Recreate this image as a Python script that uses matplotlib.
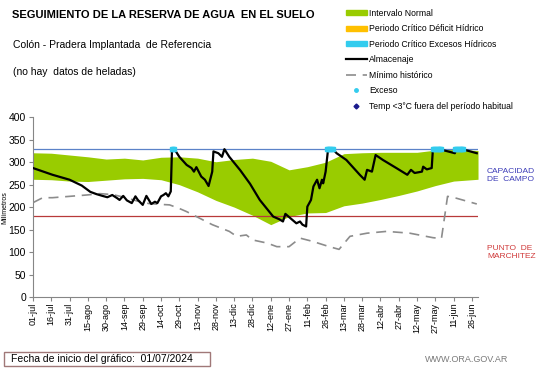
#!/usr/bin/env python3
import matplotlib
matplotlib.use("Agg")
import matplotlib.pyplot as plt
from matplotlib.patches import Patch, Rectangle
from matplotlib.lines import Line2D

plt.rcParams['font.family'] = ['Liberation Sans', 'DejaVu Sans']

# dias desde el 01/07/2024
tick_days = list(range(0, 361, 15))
tick_labels = ["01-jul", "16-jul", "31-jul", "15-ago", "30-ago", "14-sep", "29-sep", "14-oct",
               "29-oct", "13-nov", "28-nov", "13-dic", "28-dic", "12-ene", "27-ene", "11-feb",
               "26-feb", "13-mar", "28-mar", "12-abr", "27-abr", "12-may", "27-may", "11-jun", "26-jun"]

# intervalo normal (banda verde)
band_days = [0, 15, 30, 45, 60, 75, 90, 105, 120, 135, 150, 165, 180, 195, 210, 225, 240, 255,
             270, 285, 300, 315, 330, 345, 365]
band_upper = [321, 320, 316, 312, 307, 309, 305, 311, 312, 309, 301, 306, 309, 302, 283, 290, 300,
              319, 321, 322, 322, 322, 327, 329, 326]
band_lower = [262, 261, 258, 257, 260, 263, 264, 261, 250, 234, 215, 200, 182, 161, 179, 187, 188,
              203, 209, 217, 226, 236, 248, 258, 262]

# almacenaje
alm_days = [0, 16, 30, 40, 47, 52, 57, 61, 65, 69, 71, 74, 77, 81, 84, 86, 90, 93, 97, 100, 102,
            105, 107, 109, 111, 113, 114, 116, 120, 126, 130, 132, 134, 138, 141, 144, 147, 148,
            152, 155, 157, 161, 170, 178, 186, 197, 202, 205, 207, 210, 216, 219, 221, 224, 225,
            228, 230, 233, 235, 237, 238, 240, 242, 246, 249, 257, 268, 272, 274, 278, 281, 287,
            298, 307, 310, 313, 319, 320, 323, 327, 328, 333, 339, 346, 347, 352, 364]
alm_vals = [287, 272, 261, 248, 234, 229, 225, 222, 227, 220, 216, 225, 215, 209, 224, 216, 205,
            225, 207, 212, 209, 224, 227, 231, 224, 235, 329, 329, 312, 294, 287, 279, 289, 268,
            261, 247, 279, 324, 320, 312, 329, 312, 282, 252, 216, 179, 173, 168, 185, 178, 164,
            168, 161, 157, 201, 216, 246, 261, 242, 261, 253, 279, 329, 329, 320, 305, 272, 261,
            283, 279, 316, 305, 287, 272, 283, 276, 279, 290, 284, 287, 329, 329, 325, 320, 329,
            329, 320]

# minimo historico
min_days = [0, 8, 16, 30, 44, 55, 65, 75, 85, 95, 105, 112, 120, 126, 134, 147, 161, 167, 175,
            180, 192, 200, 210, 219, 229, 243, 251, 260, 274, 290, 309, 328, 335, 340, 347, 364]
min_vals = [210, 221, 221, 224, 227, 230, 228, 222, 214, 208, 206, 205, 197, 190, 179, 161, 146,
            135, 138, 127, 120, 112, 112, 131, 124, 112, 106, 135, 142, 146, 142, 132, 130, 224,
            220, 207]

# dias con exceso
exceso_days = [114, 115, 116, 241, 242, 243, 244, 245, 246, 328, 329, 330, 331, 332, 333, 334,
               335, 346, 347, 348, 349, 350, 351, 352, 353]

capacidad_campo = 330
punto_marchitez = 180

fig = plt.figure(figsize=(5.41, 3.68), dpi=100)
ax = fig.add_axes([0.061, 0.193, 0.8226, 0.4883])

ax.fill_between(band_days, band_lower, band_upper, color="#99cc00", lw=0, zorder=1)
ax.axhline(capacidad_campo, color="#5b82c8", lw=0.9, zorder=2)
ax.axhline(punto_marchitez, color="#b83a3a", lw=0.9, zorder=2)
ax.plot(min_days, min_vals, color="#8c8c8c", lw=1.2, dashes=(6, 4), zorder=3)
ax.plot(alm_days, alm_vals, color="black", lw=1.6, zorder=4)
ax.plot(exceso_days, [capacidad_campo] * len(exceso_days), ls="none", marker="s", ms=3,
        color="#33ccee", zorder=5)

ax.set_xlim(0, 365)
ax.set_ylim(0, 400)
ax.set_yticks(range(0, 401, 50))
ax.set_xticks(tick_days)
ax.set_xticklabels(tick_labels, rotation=90, fontsize=6.5)
ax.tick_params(axis="y", labelsize=7.5, length=3, color="#868686", pad=2)
ax.tick_params(axis="x", length=3, color="#868686", pad=1)
for s in ["top", "right"]:
    ax.spines[s].set_visible(False)
for s in ["left", "bottom"]:
    ax.spines[s].set_color("#868686")
ax.set_ylabel("Milímetros", fontsize=5, labelpad=0)

fig.text(0.022, 0.958, "SEGUIMIENTO DE LA RESERVA DE AGUA  EN EL SUELO", fontsize=8,
         fontweight="bold", va="center")
fig.text(0.024, 0.878, "Colón - Pradera Implantada  de Referencia", fontsize=7.5, va="center")
fig.text(0.024, 0.803, "(no hay  datos de heladas)", fontsize=7.5, va="center")

fig.text(0.9, 0.523, "CAPACIDAD\nDE  CAMPO", fontsize=6, color="#3d3db8", va="center",
         linespacing=1.2)
fig.text(0.9, 0.315, "PUNTO  DE\nMARCHITEZ", fontsize=6, color="#d03a3a", va="center",
         linespacing=1.2)

# recuadro de fecha de inicio
fig.patches.append(Rectangle((4 / 541, 2 / 368), 206 / 541, 14 / 368, transform=fig.transFigure,
                             fc="white", ec="#a07878", lw=1))
fig.text(0.02, 0.025, "Fecha de inicio del gráfico:  01/07/2024", fontsize=7.5, va="center")
fig.text(0.785, 0.022, "WWW.ORA.GOV.AR", fontsize=6.5, color="#7a7a7a", va="center")

handles = [Patch(color="#99cc00"),
           Patch(color="#ffc000"),
           Patch(color="#33ccee"),
           Line2D([], [], color="black", lw=1.6),
           Line2D([], [], color="#8c8c8c", lw=1.2, dashes=(6, 4)),
           Line2D([], [], ls="none", marker="o", ms=2.5, color="#33ccee"),
           Line2D([], [], ls="none", marker="D", ms=2.5, color="#1a1a8c")]
labels = ["Intervalo Normal", "Periodo Crítico Déficit Hídrico", "Periodo Crítico Excesos Hídricos",
          "Almacenaje", "Mínimo histórico", "Exceso", "Temp <3°C fuera del período habitual"]
fig.legend(handles, labels, loc="upper left", bbox_to_anchor=(0.63, 0.99), frameon=False,
           fontsize=6.2, handlelength=2.4, handleheight=0.5, handletextpad=0.3,
           labelspacing=0.75, borderaxespad=0.2)

fig.savefig("out.png", dpi=100)
